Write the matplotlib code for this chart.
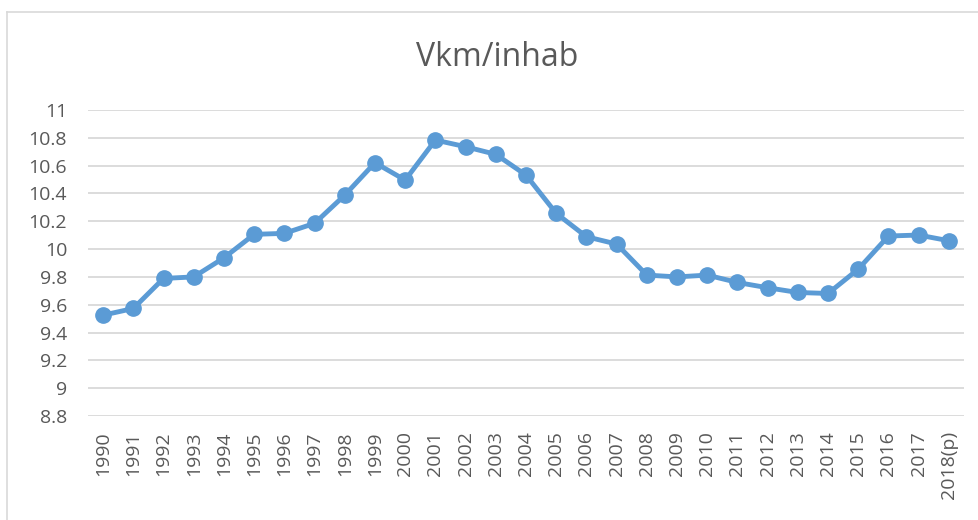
import matplotlib
matplotlib.use("Agg")
from matplotlib import pyplot as plt
from matplotlib.lines import Line2D

years = ["1990", "1991", "1992", "1993", "1994", "1995", "1996", "1997", "1998", "1999",
         "2000", "2001", "2002", "2003", "2004", "2005", "2006", "2007", "2008", "2009",
         "2010", "2011", "2012", "2013", "2014", "2015", "2016", "2017", "2018(p)"]
vkm_per_inhab = [9.525, 9.573, 9.789, 9.80, 9.937, 10.106, 10.113, 10.185, 10.388, 10.621,
                 10.496, 10.784, 10.736, 10.681, 10.532, 10.257, 10.089, 10.036, 9.813, 9.80,
                 9.813, 9.76, 9.722, 9.688, 9.681, 9.856, 10.094, 10.101, 10.06]
y_ticks = [8.8, 9, 9.2, 9.4, 9.6, 9.8, 10, 10.2, 10.4, 10.6, 10.8, 11]
y_labels = ["8.8", "9", "9.2", "9.4", "9.6", "9.8", "10", "10.2", "10.4", "10.6", "10.8", "11"]

text_color = "#595959"
grid_color = "#D9D9D9"
line_color = "#5B9BD5"

plt.rcParams["font.family"] = ["Open Sans", "DejaVu Sans"]

fig = plt.figure(figsize=(9.79, 5.2), dpi=100)
ax = fig.add_axes([88 / 979, 1 - 416 / 520, (964 - 88) / 979, (416 - 110) / 520])

x = range(len(years))
ax.plot(x, vkm_per_inhab, color=line_color, linewidth=3.5, marker="o",
        markersize=11, zorder=3)

ax.set_xlim(-0.5, len(years) - 0.5)
ax.set_ylim(8.8, 11)
ax.set_yticks(y_ticks)
ax.set_yticklabels(y_labels)
ax.set_xticks(list(x))
ax.set_xticklabels(years, rotation=90, va="top", ha="center")

ax.grid(axis="y", color=grid_color, linewidth=1.3)
ax.set_axisbelow(True)
for s in ax.spines.values():
    s.set_visible(False)
ax.tick_params(axis="both", length=0, labelsize=14, colors=text_color)
ax.tick_params(axis="y", pad=15)
ax.tick_params(axis="x", pad=11)

fig.text(497 / 979, 1 - 57 / 520, "Vkm/inhab", ha="center", va="center",
         fontsize=23, color=text_color)

# chart area border (only left and top visible in the crop)
fig.add_artist(Line2D([7 / 979, 7 / 979], [0, 1 - 12 / 520], color=grid_color,
                      linewidth=1.2, transform=fig.transFigure))
fig.add_artist(Line2D([7 / 979, 1], [1 - 12 / 520, 1 - 12 / 520], color=grid_color,
                      linewidth=1.2, transform=fig.transFigure))

fig.savefig("out.png", dpi=100)
